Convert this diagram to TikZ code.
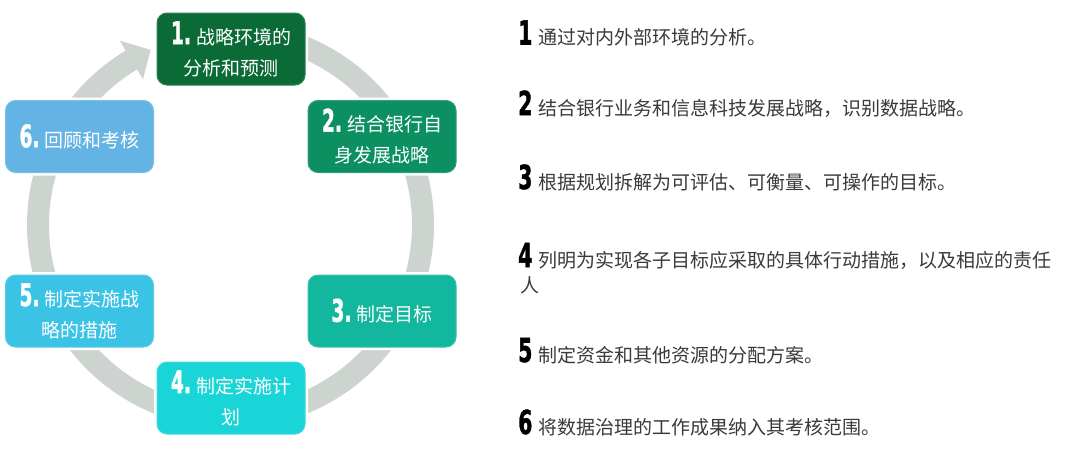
\documentclass[tikz,border=0pt]{standalone}
\usepackage{fontspec}
\usepackage{graphicx}
\usetikzlibrary{calc}
\setmainfont{Noto Sans CJK SC}
\newfontfamily\numfont{DejaVu Sans}[BoldFeatures={FakeBold=1.6}]
\definecolor{cA}{HTML}{0B6B37}
\definecolor{cB}{HTML}{0C9062}
\definecolor{cC}{HTML}{12B79E}
\definecolor{cD}{HTML}{1AD5D8}
\definecolor{cE}{HTML}{3BC3E6}
\definecolor{cF}{HTML}{63B4E4}
\definecolor{ringgray}{HTML}{CDD4D0}
\definecolor{desctext}{HTML}{3A3A3A}
\newcommand\bnum[1]{\scalebox{0.6}[1]{\fontsize{31}{31}\numfont\bfseries #1}}
\newcommand\rnum[1]{\scalebox{0.62}[1]{\fontsize{33}{33}\numfont\bfseries\color{black}#1}}
\tikzset{
  box/.style={rounded corners=10pt, minimum width=148pt, minimum height=72pt,
    inner sep=0pt, text=white, align=center,
    font=\fontsize{19}{31}\selectfont,
    preaction={draw=white, line width=6pt}},
  desc/.style={inner sep=0pt, anchor=base west, text=desctext,
    font=\fontsize{19}{25}\selectfont},
  ring/.style={draw=ringgray, line width=22pt}
}
\begin{document}
\begin{tikzpicture}[x=1pt,y=1pt]
\fill[white] (0,0) rectangle (1080,-461);
\useasboundingbox (0,0) rectangle (1080,-461);
\coordinate (C) at (230.5,-225);
% ring with arrow
\draw[ring] ($(C)+(120.5:192.5)$) arc[start angle=120.5, end angle=450, radius=192.5];
\fill[ringgray] ($(C)+(121:215)$) -- ($(C)+(114.5:192.5)$) -- ($(C)+(121:170)$) -- cycle;
% boxes
\node[box, fill=cA, draw=cA!85!white, line width=1pt] (b1) at (231,-49) {\bnum{1.}\hspace{5pt}战略环境的\\分析和预测};
\node[box, fill=cB, draw=cB!85!white, line width=1pt] (b2) at (382,-136.5) {\bnum{2.}\hspace{5pt}结合银行自\\身发展战略};
\node[box, fill=cC, draw=cC!85!white, line width=1pt] (b3) at (382,-311) {\bnum{3.}\hspace{5pt}制定目标};
\node[box, fill=cD, draw=cD!85!white, line width=1pt] (b4) at (231,-398) {\bnum{4.}\hspace{5pt}制定实施计\\划};
\node[box, fill=cE, draw=cE!85!white, line width=1pt] (b5) at (79.5,-311) {\bnum{5.}\hspace{5pt}制定实施战\\略的措施};
\node[box, fill=cF, draw=cF!85!white, line width=1pt] (b6) at (79.5,-136.5) {\bnum{6.}\hspace{5pt}回顾和考核};
% descriptions
\node[desc] (d1) at (518,-44.5) {\rnum{1}\hspace{6pt}通过对内外部环境的分析。};
\node[desc] (d2) at (518,-115) {\rnum{2}\hspace{6pt}结合银行业务和信息科技发展战略，识别数据战略。};
\node[desc] (d3) at (518,-189) {\rnum{3}\hspace{6pt}根据规划拆解为可评估、可衡量、可操作的目标。};
\node[desc] (d4) at (518,-267) {\rnum{4}\hspace{6pt}列明为实现各子目标应采取的具体行动措施，以及相应的责任};
\node[desc] (d4b) at (520,-292) {人};
\node[desc] (d5) at (518,-362) {\rnum{5}\hspace{6pt}制定资金和其他资源的分配方案。};
\node[desc] (d6) at (518,-434) {\rnum{6}\hspace{6pt}将数据治理的工作成果纳入其考核范围。};
\end{tikzpicture}
\end{document}
